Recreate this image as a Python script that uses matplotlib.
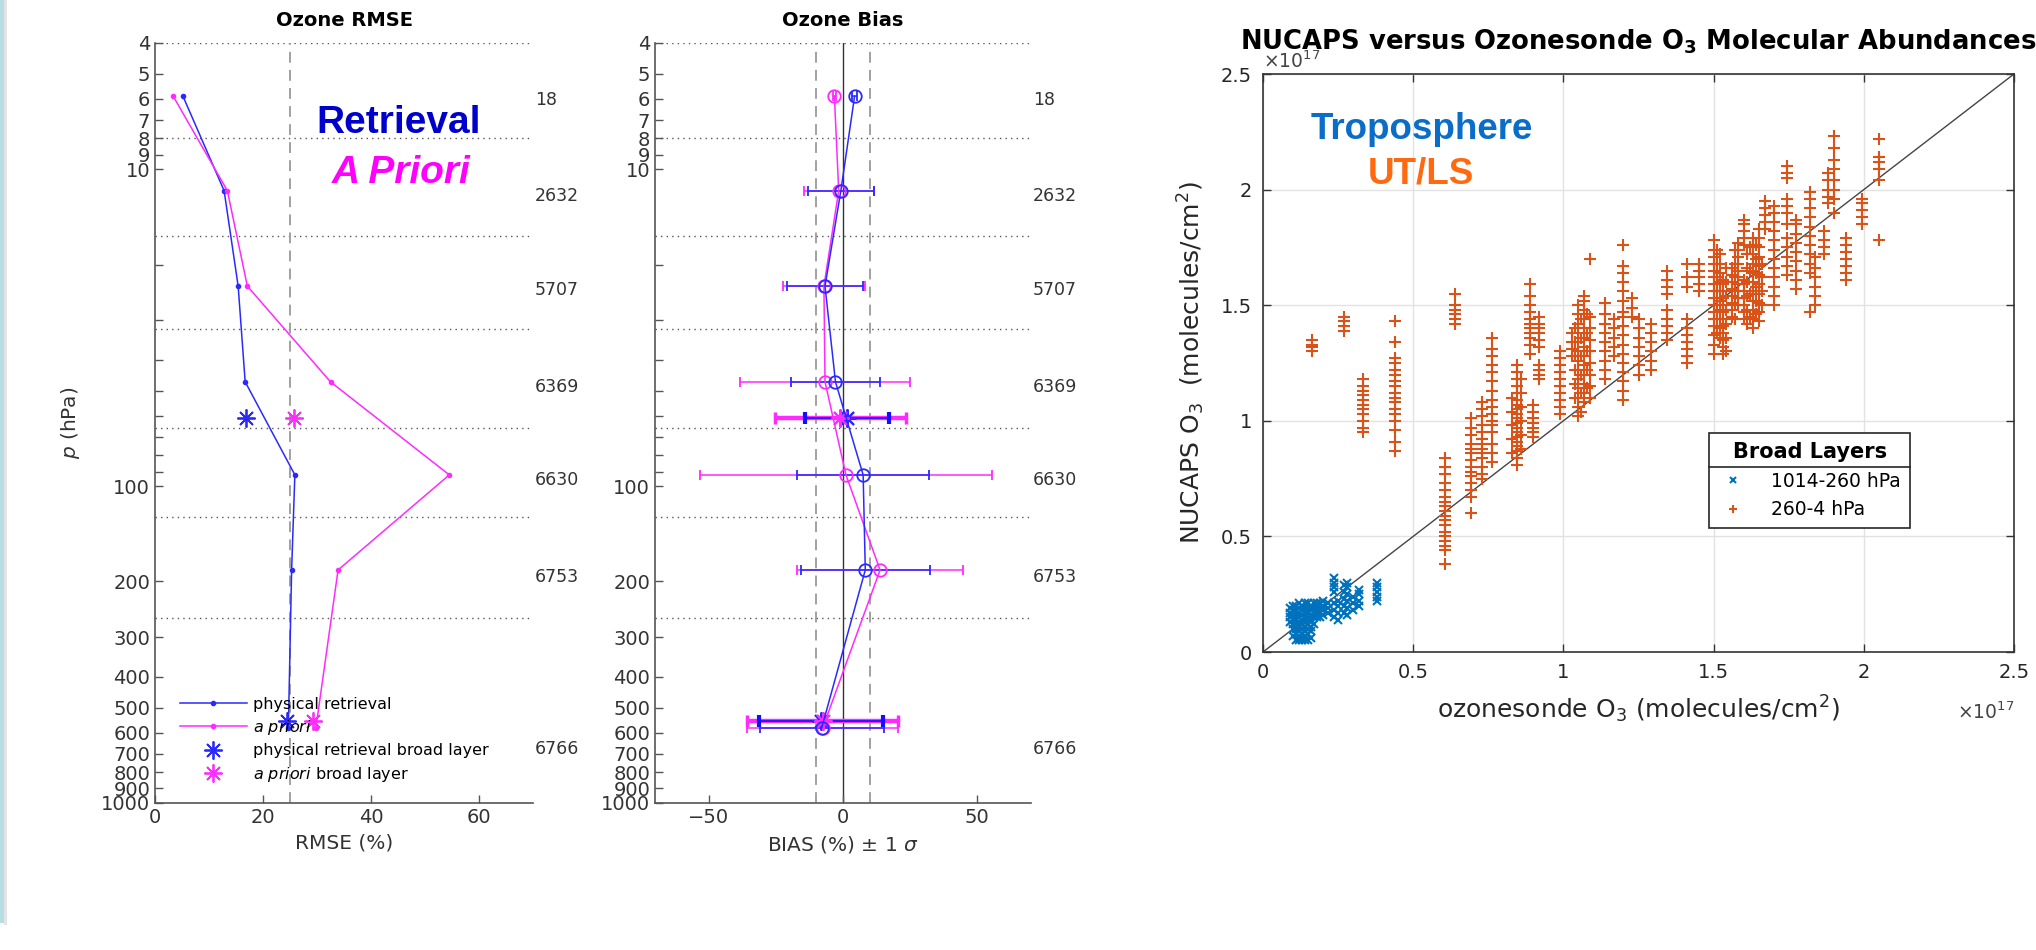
import numpy as np
import matplotlib
matplotlib.use("Agg")
import matplotlib.pyplot as plt
import matplotlib.transforms as mtransforms
from matplotlib.lines import Line2D
from matplotlib.patches import Rectangle

# ---- NUCAPS ozone layer statistics vs. ozonesondes ----
p_lev = [5.9, 11.7, 23.4, 46.9, 92.2, 184, 578]          # hPa, layer centres
p_bounds = [4, 8, 16.3, 32, 65.5, 125, 260]              # layer edges (dotted)
p_broad = [61, 551]                                      # broad layers
n_obs = ["18", "2632", "5707", "6369", "6630", "6753", "6766"]
n_obs_p = [6.05, 12.2, 24.0, 48.7, 95.7, 194, 676]

rmse_ret = [5.2, 12.8, 15.4, 16.7, 25.9, 25.3, 24.7]
rmse_apr = [3.4, 13.4, 17.1, 32.5, 54.5, 33.9, 29.8]
rmse_ret_broad = [16.8, 24.5]
rmse_apr_broad = [25.7, 29.3]

bias_ret = [4.3, -0.8, -6.7, -2.8, 7.5, 8.3, -7.9]
sd_ret = [1.0, 12.4, 14.0, 16.4, 24.7, 24.0, 23.1]
bias_apr = [-3.2, -1.6, -7.1, -6.7, 1.1, 13.8, -7.5]
sd_apr = [0.5, 13.0, 15.2, 31.6, 54.2, 31.0, 28.1]
bias_ret_broad = [1.4, -8.3]
sd_ret_broad = [15.7, 23.1]
bias_apr_broad = [-1.0, -7.6]
sd_apr_broad = [24.4, 28.1]

# ---- broad-layer columns (units of 1e17 molecules/cm2) ----
trop_x = [0.09, 0.10, 0.11, 0.12, 0.13, 0.14, 0.15, 0.16, 0.17, 0.18, 0.19,
          0.20, 0.215, 0.235, 0.25, 0.27, 0.28, 0.30, 0.32, 0.38]
trop_y = [
    [0.13, 0.15, 0.17, 0.19],
    [0.07, 0.10, 0.12, 0.14, 0.16, 0.18, 0.20],
    [0.05, 0.08, 0.10, 0.12, 0.14, 0.16, 0.18, 0.20],
    [0.05, 0.07, 0.09, 0.11, 0.13, 0.15, 0.17, 0.19, 0.21],
    [0.05, 0.08, 0.10, 0.12, 0.14, 0.16, 0.18, 0.20],
    [0.05, 0.07, 0.09, 0.11, 0.13, 0.15, 0.17, 0.19, 0.21],
    [0.05, 0.08, 0.10, 0.12, 0.14, 0.17, 0.19, 0.21],
    [0.06, 0.09, 0.11, 0.14, 0.16, 0.18, 0.20],
    [0.12, 0.15, 0.17, 0.19, 0.21],
    [0.15, 0.17, 0.19, 0.21],
    [0.15, 0.17, 0.19, 0.21],
    [0.16, 0.18, 0.20, 0.22],
    [0.17, 0.19, 0.21],
    [0.15, 0.18, 0.21, 0.26, 0.28, 0.30, 0.32],
    [0.14, 0.17, 0.20, 0.22],
    [0.17, 0.20, 0.23, 0.26, 0.29],
    [0.16, 0.19, 0.22, 0.25, 0.28, 0.30],
    [0.18, 0.21, 0.24],
    [0.20, 0.22, 0.25, 0.27],
    [0.22, 0.24, 0.26, 0.28, 0.30],
]

utls_x = [0.164, 0.269, 0.333, 0.438, 0.605, 0.64, 0.694, 0.73, 0.763, 0.83,
          0.846, 0.86, 0.888, 0.90, 0.92, 0.99, 1.03, 1.04, 1.05, 1.06, 1.07,
          1.08, 1.09, 1.14, 1.17, 1.20, 1.23, 1.25, 1.29, 1.345, 1.41, 1.45,
          1.50, 1.51, 1.52, 1.53, 1.54, 1.56, 1.57, 1.58, 1.60, 1.61, 1.62,
          1.63, 1.64, 1.65, 1.66, 1.67, 1.70, 1.745, 1.775, 1.82, 1.837,
          1.866, 1.88, 1.90, 1.94, 1.994, 2.05]
utls_y = [
    [1.30, 1.32, 1.33, 1.35],
    [1.39, 1.41, 1.43, 1.45],
    [0.95, 0.97, 1.00, 1.03, 1.05, 1.07, 1.09, 1.11, 1.13, 1.15, 1.18],
    [0.87, 0.91, 0.96, 1.00, 1.03, 1.05, 1.08, 1.10, 1.12, 1.15, 1.17, 1.20,
     1.22, 1.25, 1.27, 1.34, 1.43],
    [0.38, 0.44, 0.46, 0.48, 0.50, 0.52, 0.55, 0.57, 0.59, 0.61, 0.63, 0.65,
     0.67, 0.70, 0.73, 0.77, 0.80, 0.84],
    [1.42, 1.44, 1.46, 1.48, 1.50, 1.55],
    [0.60, 0.67, 0.70, 0.73, 0.76, 0.78, 0.80, 0.83, 0.86, 0.88, 0.90, 0.94,
     0.97, 1.01],
    [0.75, 0.77, 0.80, 0.84, 0.86, 0.88, 0.90, 0.92, 0.95, 0.98, 1.02, 1.05,
     1.08],
    [0.82, 0.86, 0.90, 0.95, 0.98, 1.00, 1.03, 1.06, 1.09, 1.13, 1.17, 1.21,
     1.24, 1.28, 1.31, 1.36],
    [0.86, 0.92, 0.98, 1.04, 1.10],
    [0.81, 0.84, 0.87, 0.89, 0.91, 0.93, 0.95, 0.97, 0.99, 1.01, 1.03, 1.05,
     1.07, 1.09, 1.12, 1.15, 1.18, 1.21, 1.24],
    [0.88, 0.94, 1.00, 1.06, 1.12, 1.18],
    [1.29, 1.33, 1.36, 1.38, 1.40, 1.42, 1.44, 1.47, 1.50, 1.54, 1.59],
    [0.93, 0.95, 0.97, 0.99, 1.01, 1.04, 1.07],
    [1.18, 1.20, 1.22, 1.24, 1.32, 1.35, 1.38, 1.40, 1.42, 1.45],
    [1.03, 1.06, 1.09, 1.12, 1.15, 1.18, 1.21, 1.24, 1.27, 1.30],
    [1.28, 1.31, 1.34, 1.38],
    [1.10, 1.16, 1.22, 1.28, 1.34, 1.40],
    [1.02, 1.06, 1.10, 1.14, 1.18, 1.22, 1.26, 1.30, 1.34, 1.38, 1.42, 1.46,
     1.50],
    [1.04, 1.12, 1.20, 1.28, 1.36, 1.44],
    [1.08, 1.12, 1.16, 1.20, 1.24, 1.28, 1.32, 1.36, 1.40, 1.44, 1.48, 1.52,
     1.54],
    [1.14, 1.22, 1.30, 1.38, 1.46],
    [1.10, 1.15, 1.20, 1.25, 1.30, 1.35, 1.40, 1.45, 1.70],
    [1.18, 1.22, 1.26, 1.30, 1.34, 1.38, 1.42, 1.46, 1.51],
    [1.28, 1.32, 1.36, 1.40, 1.44],
    [1.09, 1.13, 1.17, 1.21, 1.25, 1.29, 1.33, 1.37, 1.41, 1.45, 1.47, 1.52,
     1.56, 1.60, 1.64, 1.67, 1.76],
    [1.45, 1.49, 1.53],
    [1.20, 1.24, 1.28, 1.32, 1.36, 1.40, 1.44],
    [1.22, 1.26, 1.30, 1.34, 1.38, 1.42],
    [1.35, 1.38, 1.41, 1.44, 1.48, 1.55, 1.58, 1.61, 1.65],
    [1.25, 1.28, 1.31, 1.34, 1.37, 1.40, 1.44, 1.58, 1.62, 1.68],
    [1.56, 1.59, 1.62, 1.65, 1.68],
    [1.29, 1.33, 1.37, 1.41, 1.44, 1.47, 1.50, 1.53, 1.56, 1.59, 1.62, 1.65,
     1.68, 1.71, 1.74, 1.78],
    [1.38, 1.44, 1.50, 1.56, 1.62, 1.68, 1.74],
    [1.36, 1.40, 1.44, 1.48, 1.52, 1.56, 1.60, 1.64, 1.68, 1.72],
    [1.29, 1.32, 1.35, 1.38, 1.41, 1.44, 1.47, 1.50, 1.53, 1.56, 1.59, 1.61],
    [1.30, 1.36, 1.42, 1.48, 1.54, 1.60, 1.66],
    [1.45, 1.48, 1.51, 1.54, 1.57, 1.60, 1.63, 1.66],
    [1.44, 1.50, 1.56, 1.62, 1.68, 1.74],
    [1.50, 1.53, 1.56, 1.59, 1.62, 1.65, 1.68, 1.71, 1.74, 1.77],
    [1.44, 1.47, 1.50, 1.53, 1.56, 1.59, 1.61, 1.76, 1.79, 1.82, 1.85, 1.87],
    [1.42, 1.48, 1.54, 1.60, 1.66, 1.72],
    [1.45, 1.55, 1.65, 1.75],
    [1.40, 1.44, 1.48, 1.52, 1.56, 1.60, 1.64, 1.68, 1.72, 1.76, 1.79],
    [1.46, 1.52, 1.58, 1.64, 1.70, 1.76],
    [1.43, 1.47, 1.51, 1.55, 1.59, 1.63, 1.67, 1.71, 1.75, 1.79, 1.83],
    [1.50, 1.56, 1.62, 1.68],
    [1.83, 1.86, 1.89, 1.92, 1.95],
    [1.50, 1.54, 1.58, 1.62, 1.66, 1.70, 1.74, 1.78, 1.82, 1.86, 1.90, 1.93],
    [1.63, 1.67, 1.71, 1.75, 1.79, 1.85, 1.90, 1.93, 1.96, 2.05, 2.07, 2.10],
    [1.57, 1.61, 1.65, 1.69, 1.73, 1.77, 1.81, 1.85, 1.87],
    [1.47, 1.64, 1.68, 1.72, 1.76, 1.80, 1.84, 1.88, 1.92, 1.96, 1.99],
    [1.50, 1.54, 1.58, 1.62, 1.66, 1.71],
    [1.72, 1.75, 1.78, 1.82],
    [1.94, 1.97, 2.00, 2.04, 2.07],
    [1.90, 1.96, 2.00, 2.04, 2.09, 2.13, 2.18, 2.23],
    [1.61, 1.64, 1.67, 1.70, 1.73, 1.76, 1.79],
    [1.85, 1.88, 1.91, 1.94, 1.96],
    [1.78, 2.04, 2.09, 2.12, 2.14, 2.22],
]

BLUE = "#2a2aff"
MAG = "#ff2aff"
M_BLUE = "#0072BD"
M_ORANGE = "#D95319"
AXC = "#555555"
TXC = "#333333"
STAR = (8, 2, 0)

ytick_all = [4, 5, 6, 7, 8, 9, 10, 20, 30, 40, 50, 60, 70, 80, 90,
             100, 200, 300, 400, 500, 600, 700, 800, 900, 1000]
ytick_lab = [str(t) if (t <= 10 or t >= 100) else "" for t in ytick_all]

fig = plt.figure(figsize=(20.36, 9.5), dpi=100)
W, H = 2036.0, 950.0


def px_axes(l, t, r, b):
    return fig.add_axes([l / W, 1 - b / H, (r - l) / W, (b - t) / H])


def profile_axes(ax, xlim, xticks):
    ax.set_yscale("log")
    ax.set_ylim(1000, 4)
    ax.set_xlim(*xlim)
    ax.set_yticks(ytick_all)
    ax.set_yticklabels(ytick_lab)
    ax.yaxis.set_minor_locator(matplotlib.ticker.NullLocator())
    ax.set_xticks(xticks)
    for s in ("top", "right"):
        ax.spines[s].set_visible(False)
    for s in ("left", "bottom"):
        ax.spines[s].set_color(AXC)
        ax.spines[s].set_linewidth(1.2)
    ax.tick_params(direction="in", length=6, width=1, colors=AXC,
                   labelcolor=TXC, labelsize=14)
    for pb in p_bounds:
        ax.axhline(pb, color="#555555", ls=(0, (1, 3)), lw=1, zorder=1)
    tr = mtransforms.blended_transform_factory(ax.transAxes, ax.transData)
    for lab, pp in zip(n_obs, n_obs_p):
        ax.text(1.005, pp, lab, transform=tr, ha="left", va="center",
                fontsize=12.5, color=TXC, clip_on=False)


# ---------------- Ozone RMSE ----------------
ax1 = px_axes(155, 43, 533, 803)
profile_axes(ax1, (0, 70), [0, 20, 40, 60])
ax1.axvline(25, color="#9a9a9a", ls=(0, (6, 4)), lw=1.3, zorder=1)
ax1.plot(rmse_ret, p_lev, "-", marker=".", color=BLUE, lw=1.1, ms=6,
         label="physical retrieval")
ax1.plot(rmse_apr, p_lev, "-", marker=".", color=MAG, lw=1.1, ms=6,
         label="$\\it{a\\ priori}$")
ax1.plot(rmse_ret_broad, p_broad, ls="none", marker=STAR, color=BLUE, ms=13,
         mew=1.3, label="physical retrieval broad layer")
ax1.plot(rmse_apr_broad, p_broad, ls="none", marker=STAR, color=MAG, ms=13,
         mew=1.3, label="$\\it{a\\ priori}$ broad layer")
ax1.set_title("Ozone RMSE", fontsize=14, fontweight="bold", pad=12)
ax1.set_xlabel("RMSE (%)", fontsize=14.5, color=TXC, labelpad=5)
ax1.set_ylabel("$p$ (hPa)", fontsize=14.5, color=TXC, labelpad=14)
ax1.legend(loc="upper left", bbox_to_anchor=(0.065, 0.14), frameon=False,
           fontsize=11.5, handlelength=4.2, handletextpad=0.4,
           labelspacing=0.4, borderpad=0, borderaxespad=0)
ax1.text(0.645, 0.895, "Retrieval", transform=ax1.transAxes, ha="center",
         va="center", fontsize=28, fontweight="bold", color="#0000cc",
         family="Liberation Sans")
ax1.text(0.651, 0.829, "A Priori", transform=ax1.transAxes, ha="center",
         va="center", fontsize=28, fontweight="bold", fontstyle="italic",
         color="#ff00ff", family="Liberation Sans")

# ---------------- Ozone Bias ----------------
ax2 = px_axes(655, 43, 1031, 803)
profile_axes(ax2, (-70, 70), [-50, 0, 50])
ax2.axvline(0, color="#333333", lw=1, zorder=1)
for xv in (-10, 10):
    ax2.axvline(xv, color="#9a9a9a", ls=(0, (6, 4)), lw=1.3, zorder=1)
ax2.errorbar(bias_apr, p_lev, xerr=sd_apr, fmt="-o", color=MAG, mfc="none",
             ms=9, mew=1.3, lw=1.1, elinewidth=1.1, capsize=3.5)
ax2.errorbar(bias_ret, p_lev, xerr=sd_ret, fmt="-o", color=BLUE, mfc="none",
             ms=9, mew=1.3, lw=1.1, elinewidth=1.1, capsize=3.5)
ax2.errorbar(bias_apr_broad, p_broad, xerr=sd_apr_broad, fmt="none",
             ecolor=MAG, elinewidth=3.2, capsize=4, capthick=2.5)
ax2.errorbar(bias_ret_broad, p_broad, xerr=sd_ret_broad, fmt="none",
             ecolor="#1010ff", elinewidth=1.2, capsize=4, capthick=3)
ax2.plot(bias_ret_broad, p_broad, ls="none", marker=STAR, color=BLUE, ms=13,
         mew=1.5)
ax2.plot(bias_apr_broad, p_broad, ls="none", marker=STAR, color=MAG, ms=13,
         mew=1.5)
ax2.set_title("Ozone Bias", fontsize=14, fontweight="bold", pad=12)
ax2.set_xlabel("BIAS (%) $\\pm$ 1 $\\sigma$", fontsize=14.5, color=TXC,
               labelpad=5)

# ---------------- NUCAPS vs ozonesonde columns ----------------
tx = np.repeat(trop_x, [len(c) for c in trop_y])
ty = np.concatenate(trop_y)
ux = np.repeat(utls_x, [len(c) for c in utls_y])
uy = np.concatenate(utls_y)

ax3 = px_axes(1263, 74, 2014, 652)
ax3.set_xlim(0, 2.5)
ax3.set_ylim(0, 2.5)
ticks = [0, 0.5, 1, 1.5, 2, 2.5]
tlabs = ["0", "0.5", "1", "1.5", "2", "2.5"]
ax3.set_xticks(ticks)
ax3.set_xticklabels(tlabs)
ax3.set_yticks(ticks)
ax3.set_yticklabels(tlabs)
ax3.grid(True, color="#e2e2e2", lw=1)
ax3.set_axisbelow(True)
for s in ax3.spines.values():
    s.set_color("#333333")
    s.set_linewidth(1.2)
ax3.tick_params(direction="in", length=6, width=1, colors="#333333",
                labelcolor="#262626", labelsize=14, top=True, right=True,
                pad=8)
ax3.plot([0, 2.5], [0, 2.5], color="#444444", lw=1, zorder=2)
ax3.plot(tx, ty, ls="none", marker="x", color=M_BLUE, ms=6, mew=1.5,
         label="1014-260 hPa", zorder=3)
ax3.plot(ux, uy, ls="none", marker="+", color=M_ORANGE, ms=8, mew=1.5,
         label="260-4 hPa", zorder=3)
ax3.set_title("NUCAPS versus Ozonesonde O$_{\\mathbf{3}}$ Molecular Abundances",
              fontsize=18.6, fontweight="bold", pad=18)
ax3.set_xlabel("ozonesonde O$_3$ (molecules/cm$^2$)", fontsize=18,
               color="#262626", labelpad=8)
ax3.set_ylabel("NUCAPS O$_3$  (molecules/cm$^2$)", fontsize=18,
               color="#262626", labelpad=10)
ax3.text(0.0, 1.003, "$\\times$10$^{17}$", transform=ax3.transAxes,
         ha="left", va="bottom", fontsize=13.5, color="#444444")
ax3.text(1.0, -0.105, "$\\times$10$^{17}$", transform=ax3.transAxes,
         ha="right", va="center", fontsize=13.5, color="#444444")
ax3.text(0.212, 0.888, "Troposphere", transform=ax3.transAxes, ha="center",
         va="baseline", fontsize=26.5, fontweight="bold", color="#0a6ec8",
         family="Liberation Sans")
ax3.text(0.210, 0.810, "UT/LS", transform=ax3.transAxes, ha="center",
         va="baseline", fontsize=26.5, fontweight="bold", color="#ff6a10",
         family="Liberation Sans")
leg = ax3.legend(loc="upper left", bbox_to_anchor=(0.594, 0.379),
                 borderaxespad=0, title="Broad Layers", fontsize=13.5,
                 title_fontproperties={"weight": "bold", "size": 15},
                 handlelength=1.6, handletextpad=1.2, borderpad=0.5,
                 labelspacing=0.5, fancybox=False, framealpha=1,
                 edgecolor="#262626", markerscale=0.7)
leg.get_frame().set_linewidth(1.2)

# separator under the legend title
fig.canvas.draw()
rend = fig.canvas.get_renderer()
lb = leg.get_window_extent(rend)
tb = leg.get_title().get_window_extent(rend)
ysep = (tb.y0 - 5) / fig.bbox.height
fig.add_artist(Line2D([lb.x0 / fig.bbox.width, lb.x1 / fig.bbox.width],
                      [ysep, ysep], transform=fig.transFigure,
                      color="#262626", lw=1.2))

# slide edge strip
fig.add_artist(Rectangle((0, 1 - 923 / H), 4 / W, 923 / H,
                         transform=fig.transFigure, color="#b7dfe3", lw=0))
fig.add_artist(Rectangle((4 / W, 1 - 925 / H), 3 / W, 925 / H,
                         transform=fig.transFigure, color="#e4e4e4", lw=0))

fig.savefig("out.png", dpi=100)
